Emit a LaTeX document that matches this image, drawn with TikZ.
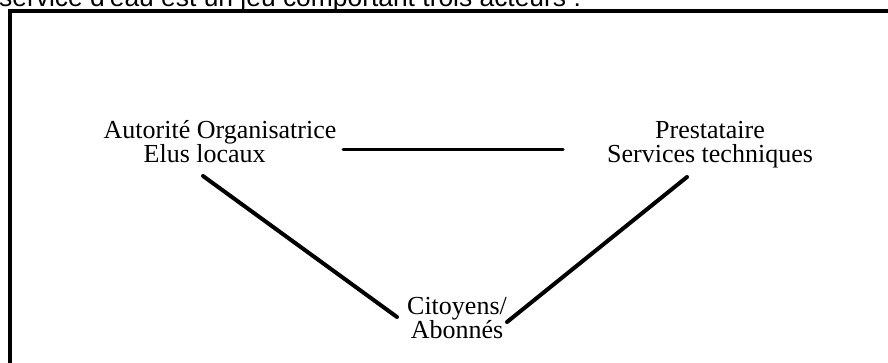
\documentclass[tikz,border=0pt]{standalone}
\usepackage{fontspec}
\setmainfont{Liberation Serif}
\newfontfamily\arialf{Liberation Sans}
\usetikzlibrary{calc}
\tikzset{
  actor/.style={inner sep=0pt, align=center, font=\fontsize{26}{24}\selectfont},
  conn/.style={line width=4pt, line cap=round},
  hconn/.style={line width=3pt, line cap=round},
  frame/.style={line width=4pt}
}
\begin{document}
\begin{tikzpicture}[x=1pt,y=-1pt]
\useasboundingbox (0,0) rectangle (888,362);
\clip (0,0) rectangle (888,362);
\fill[white] (0,0) rectangle (888,362);
\node[anchor=base west, inner sep=0pt, font=\arialf\fontsize{26.4}{30}\selectfont] (title) at (-1,6) {service d'eau est un jeu comportant trois acteurs :};
\draw[frame] (9.5,11) rectangle (900,380);
\node[actor, align=left] (a) at (220,142) {Autorité Organisatrice\\\hspace*{40pt}Elus locaux};
\node[actor] (p) at (710,145) {Prestataire\\Services techniques};
\node[actor] (c) at (457,318.5) {Citoyens/\\Abonnés};
\draw[hconn] ($(a)+(123,7.5)$) -- ($(p)+(-147,4.5)$);
\draw[conn] ($(a)+(-17,34)$) -- ($(c)+(-60,-1.5)$);
\draw[conn] ($(p)+(-23,32)$) -- ($(c)+(50,3.5)$);
\end{tikzpicture}
\end{document}
